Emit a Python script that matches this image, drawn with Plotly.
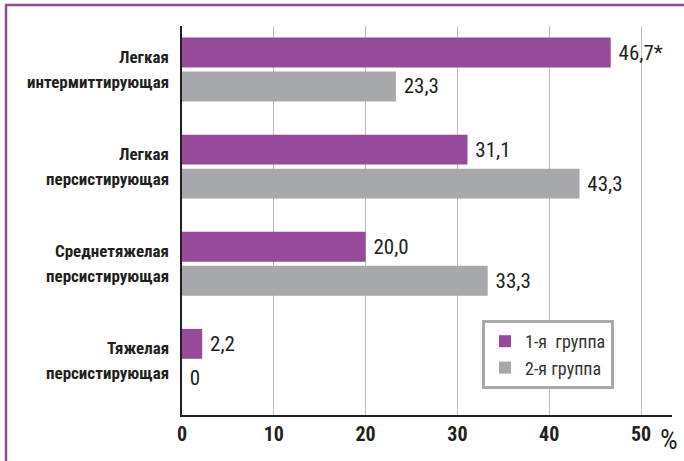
import plotly.graph_objects as go

categories = ["Легкая<br>интермиттирующая", "Легкая<br>персистирующая",
              "Среднетяжелая<br>персистирующая", "Тяжелая<br>персистирующая"]
group1 = [46.7, 31.1, 20.0, 2.2]
group2 = [23.3, 43.3, 33.3, 0.0]
labels1 = ["46,7*", "31,1", "20,0", "2,2"]
labels2 = ["23,3", "43,3", "33,3", "0"]
series_names = ["1-я  группа", "2-я группа"]
x_ticks = [0, 10, 20, 30, 40, 50]

FONT = "Liberation Sans Narrow, Arial Narrow, Roboto Condensed, Liberation Sans, sans-serif"
PURPLE = "#974A9A"
GRAY = "#A7A8AB"

L, R, T, B = 182, 12, 26, 46
W, H = 684, 461
pw, ph = W - L - R, H - T - B

fig = go.Figure()
fig.add_trace(go.Bar(y=list(range(len(categories))), x=group1, orientation="h",
                     name=series_names[0], marker=dict(color=PURPLE, line=dict(width=0)),
                     text=[" " + t for t in labels1], textposition="outside", cliponaxis=False,
                     textfont=dict(family=FONT, size=21, color="#231F20"),
                     legendgroup="g1"))
fig.add_trace(go.Bar(y=list(range(len(categories))), x=group2, orientation="h",
                     name=series_names[1], marker=dict(color=GRAY, line=dict(width=0)),
                     text=[" " + t for t in labels2], textposition="outside", cliponaxis=False,
                     textfont=dict(family=FONT, size=21, color="#231F20"),
                     legendgroup="g2"))

# category labels (two lines each, wide line spacing)
annotations = []
for i, c in enumerate(categories):
    parts = c.split("<br>")
    for j, p in enumerate(parts):
        annotations.append(dict(x=0, xref="paper", xanchor="right", xshift=-11,
                                y=i, yref="y", yanchor="middle",
                                yshift=(12.5 if j == 0 else -12.5),
                                text="<b>%s</b>" % p, showarrow=False,
                                font=dict(family=FONT, size=17, color="#231F20")))
annotations.append(dict(x=50, xref="x", xanchor="left", xshift=17, y=0, yref="paper",
                        yanchor="top", yshift=-6, text="%", showarrow=False,
                        font=dict(family=FONT, size=28, color="#231F20")))

fig.update_layout(
    width=W, height=H,
    margin=dict(l=L, r=R, t=T, b=B),
    paper_bgcolor="white", plot_bgcolor="white",
    barmode="group", bargap=0.30, bargroupgap=0.12,
    showlegend=True,
    legend=dict(x=(482 - L) / pw, y=(415 - 320) / ph, xanchor="left", yanchor="top",
                bordercolor="#AAAAAA", borderwidth=3, bgcolor="white",
                font=dict(family=FONT, size=18, color="#333333"),
                tracegroupgap=9, traceorder="normal", itemwidth=30),
    xaxis=dict(range=[0, pw / 9.18], tickvals=x_ticks, ticktext=["<b>%d</b>" % v for v in x_ticks],
               showgrid=True, gridcolor="#BDBDBD", gridwidth=1, zeroline=False,
               showline=True, linecolor="#231F20", linewidth=1.5, ticks="",
               tickfont=dict(family=FONT, size=20, color="#231F20")),
    yaxis=dict(range=[3.558, -0.448], showticklabels=False, showgrid=False, zeroline=False,
               showline=True, linecolor="#231F20", linewidth=1.5, ticks=""),
    annotations=annotations,
    shapes=[
        dict(type="line", xref="paper", yref="paper", x0=(5 - L) / pw, x1=(W + 5 - L) / pw,
             y0=(H - B - 5) / ph, y1=(H - B - 5) / ph, line=dict(color="#8A4F8C", width=2.5)),
        dict(type="line", xref="paper", yref="paper", x0=(6 - L) / pw, x1=(6 - L) / pw,
             y0=(H - B - 5) / ph, y1=(H - B - H - 5) / ph, line=dict(color="#8A4F8C", width=2.5)),
    ],
)

fig.write_html("out.html")
